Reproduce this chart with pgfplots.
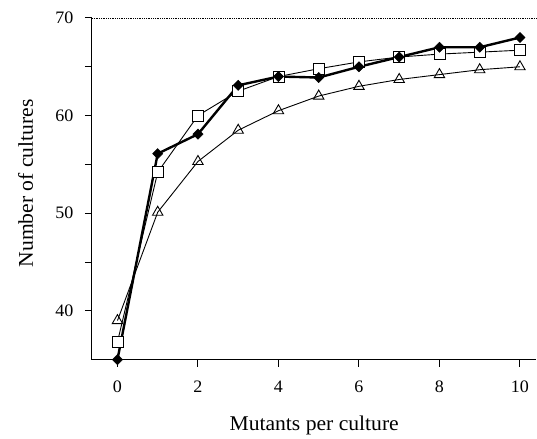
\documentclass[border=0pt]{standalone}
\usepackage{fontspec}
\setmainfont{Liberation Serif}[FakeStretch=1.03]
\usepackage{pgfplots}
\pgfplotsset{compat=1.18}
\begin{document}
\begin{tikzpicture}
\begin{axis}[
  scale only axis,
  width=445pt, height=342pt,
  xmin=-0.635, xmax=10.41,
  ymin=35, ymax=70,
  axis x line*=bottom, axis y line*=left,
  axis line style={-, line width=1.1pt},
  xtick={0,2,4,6,8,10},
  ytick={40,50,60,70},
  minor ytick={45,55,65},
  tick align=outside,
  major tick length=7pt, minor tick length=7pt,
  tick style={line width=1pt, black},
  /pgf/number format/assume math mode=true,
  ticklabel style={font=\fontsize{17.5}{20}\selectfont},
  xticklabel style={yshift=-11pt},
  yticklabel style={xshift=-8pt},
  xlabel={Mutants per culture},
  ylabel={Number of cultures},
  label style={font=\fontsize{21}{24}\selectfont},
  xlabel style={at={(axis description cs:0.5,-0.2076)}, anchor=base},
  ylabel style={at={(axis description cs:-0.1326,0.516)}, anchor=base},
  clip=false,
]
\draw[densely dotted, line width=0.8pt] (rel axis cs:0,1) -- (rel axis cs:1,1);
\addplot[black, line width=0.9pt, mark=triangle, mark size=6pt, mark options={fill=white, line width=0.9pt}]
coordinates {(0,39) (1,50.1) (2,55.3) (3,58.5) (4,60.5) (5,62) (6,63) (7,63.7) (8,64.2) (9,64.7) (10,65)};
\addplot[black, line width=0.9pt, mark=square*, mark size=5.5pt, mark options={fill=white, line width=0.9pt}]
coordinates {(0,36.8) (1,54.2) (2,60) (3,62.5) (4,64) (5,64.8) (6,65.5) (7,66) (8,66.3) (9,66.5) (10,66.7)};
\addplot[black, line width=2.4pt, mark=square*, mark size=3.6pt, mark options={fill=black, line width=0.5pt, rotate=45}]
coordinates {(0,35) (1,56.1) (2,58.1) (3,63.1) (4,64) (5,63.9) (6,65) (7,66) (8,67) (9,67) (10,68)};
\end{axis}
\path ([shift={(-92pt,-77pt)}]current axis.south west) rectangle ([shift={(0pt,18pt)}]current axis.north east);
\end{tikzpicture}
\end{document}
